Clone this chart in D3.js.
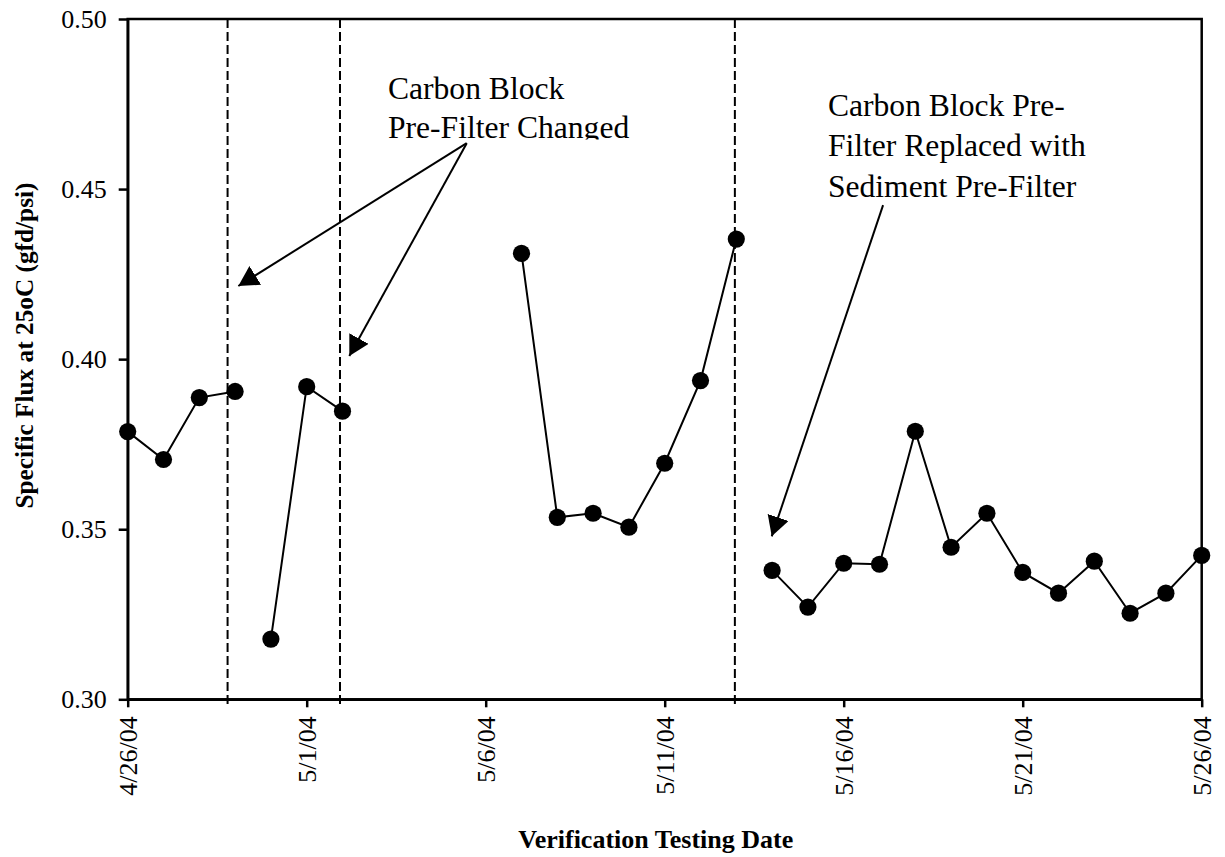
<!DOCTYPE html>
<html lang="en">
<head>
<meta charset="UTF-8">
<title>Specific Flux at 25oC</title>
<script src="https://d3js.org/d3.v7.min.js"></script>
<style>
  body { margin: 0; padding: 0; background: #fff; }
  text { font-family: "Liberation Serif", "Times New Roman", serif; fill: #000; }
</style>
</head>
<body>
<svg id="chart" width="1225" height="857"></svg>
<script>
// Data: one array per run of connected points
const runDates = [
  ["2004-04-26", "2004-04-27", "2004-04-28", "2004-04-29"],
  ["2004-04-30", "2004-05-01", "2004-05-02"],
  ["2004-05-07", "2004-05-08", "2004-05-09", "2004-05-10", "2004-05-11", "2004-05-12", "2004-05-13"],
  ["2004-05-14", "2004-05-15", "2004-05-16", "2004-05-17", "2004-05-18", "2004-05-19", "2004-05-20",
   "2004-05-21", "2004-05-22", "2004-05-23", "2004-05-24", "2004-05-25", "2004-05-26"]
];
const runValues = [
  [0.3787, 0.3705, 0.3887, 0.3905],
  [0.3177, 0.3919, 0.3847],
  [0.4311, 0.3535, 0.3547, 0.3506, 0.3694, 0.3937, 0.4353],
  [0.3379, 0.3271, 0.3400, 0.3397, 0.3788, 0.3447, 0.3547, 0.3373, 0.3312, 0.3406, 0.3253, 0.3312, 0.3423]
];

const xTicks = ["2004-04-26", "2004-05-01", "2004-05-06", "2004-05-11", "2004-05-16", "2004-05-21", "2004-05-26"];
const yTicks = [0.30, 0.35, 0.40, 0.45, 0.50];

// filter change events (days after 4/26/04)
const changeDays = [2.79, 5.93, 16.96];

// annotations, in (days after 4/26/04, flux)
const noteLeftLines = ["Carbon Block", "Pre-Filter Changed"];
const noteLeftAt = [7.27, 0.4765];
const noteLeftFrom = [9.47, 0.4635];
const noteLeftTips = [[3.09, 0.4215], [6.19, 0.4009]];
const noteRightLines = ["Carbon Block Pre-", "Filter Replaced with", "Sediment Pre-Filter"];
const noteRightAt = [19.56, 0.4715];
const noteRightFrom = [21.1, 0.4453];
const noteRightTip = [17.99, 0.3479];

const parse = d3.utcParse("%Y-%m-%d");
const start = parse(xTicks[0]);
const dayMs = 864e5;
const atDay = d => new Date(start.getTime() + d * dayMs);

const plotLeft = 127.7, plotRight = 1201.7, plotTop = 19, plotBottom = 699.3;

const svg = d3.select("#chart");
svg.append("rect").attr("width", 1225).attr("height", 857).attr("fill", "#fff");

const x = d3.scaleUtc()
  .domain([start, parse(xTicks[xTicks.length - 1])])
  .range([plotLeft, plotRight]);
const y = d3.scaleLinear().domain([0.30, 0.50]).range([plotBottom, plotTop]);

// arrow head
svg.append("defs").append("marker")
  .attr("id", "head")
  .attr("markerUnits", "userSpaceOnUse")
  .attr("viewBox", "0 -11 20 22")
  .attr("refX", 20).attr("refY", 0)
  .attr("markerWidth", 20).attr("markerHeight", 22)
  .attr("orient", "auto")
  .append("path").attr("d", "M0,-11L20,0L0,11Z").attr("fill", "#000");

// dashed change lines
svg.append("g").selectAll("line")
  .data(changeDays)
  .enter().append("line")
  .attr("x1", d => x(atDay(d))).attr("x2", d => x(atDay(d)))
  .attr("y1", y(0.50)).attr("y2", y(0.298))
  .attr("stroke", "#000").attr("stroke-width", 2)
  .attr("stroke-dasharray", "9,4");

// axes
const yAxis = d3.axisLeft(y).tickValues(yTicks).tickFormat(d3.format(".2f")).tickSize(9).tickSizeOuter(0).tickPadding(12);
const gy = svg.append("g").attr("transform", `translate(${plotLeft},0)`).call(yAxis);
gy.selectAll("text").attr("font-size", 26).style("font-family", '"Liberation Serif", serif');

const xAxis = d3.axisBottom(x).tickValues(xTicks.map(parse)).tickFormat(d3.utcFormat("%-m/%-d/%y")).tickSize(8).tickSizeOuter(0);
const gx = svg.append("g").attr("transform", `translate(0,${plotBottom})`).call(xAxis);
gx.selectAll("text")
  .attr("font-size", 26).style("font-family", '"Liberation Serif", serif')
  .attr("transform", "rotate(-90)")
  .attr("text-anchor", "end")
  .attr("x", -17).attr("y", 0).attr("dy", "0.35em");

svg.selectAll(".domain, .tick line").attr("stroke", "#000").attr("stroke-width", 2.5);

// plot frame
svg.append("rect")
  .attr("x", plotLeft).attr("y", plotTop)
  .attr("width", plotRight - plotLeft).attr("height", plotBottom - plotTop)
  .attr("fill", "none").attr("stroke", "#000").attr("stroke-width", 2.5);

// series
const runs = runDates.map((ds, i) => ds.map((d, j) => ({ date: parse(d), value: runValues[i][j] })));
const line = d3.line().x(d => x(d.date)).y(d => y(d.value));

svg.append("g").selectAll("path")
  .data(runs)
  .enter().append("path")
  .attr("d", line)
  .attr("fill", "none").attr("stroke", "#000").attr("stroke-width", 2);

svg.append("g").selectAll("circle")
  .data(runs.flat())
  .enter().append("circle")
  .attr("cx", d => x(d.date)).attr("cy", d => y(d.value))
  .attr("r", 8.6).attr("fill", "#000");

// annotations
const px = p => [x(atDay(p[0])), y(p[1])];

const [lx, ly] = px(noteLeftAt);
svg.append("clipPath").attr("id", "clipLeft")
  .append("rect").attr("x", lx - 5).attr("y", ly - 40).attr("width", 400).attr("height", 39.5 + 41);
const tl = svg.append("text").attr("font-size", 31.6).attr("clip-path", "url(#clipLeft)");
noteLeftLines.forEach((t, i) => tl.append("tspan").attr("x", lx).attr("y", ly + i * 39.5).text(t));

const [rx, ry] = px(noteRightAt);
const tr = svg.append("text").attr("font-size", 31.6);
noteRightLines.forEach((t, i) => tr.append("tspan").attr("x", rx).attr("y", ry + i * 40.3).text(t));

const arrows = noteLeftTips.map(t => [noteLeftFrom, t]).concat([[noteRightFrom, noteRightTip]]);
svg.append("g").selectAll("line")
  .data(arrows)
  .enter().append("line")
  .attr("x1", d => px(d[0])[0]).attr("y1", d => px(d[0])[1])
  .attr("x2", d => px(d[1])[0]).attr("y2", d => px(d[1])[1])
  .attr("stroke", "#000").attr("stroke-width", 2)
  .attr("marker-end", "url(#head)");

// axis titles
svg.append("text")
  .attr("transform", `translate(${x(atDay(14.75))},848)`)
  .attr("text-anchor", "middle").attr("font-size", 26).attr("font-weight", "bold")
  .text("Verification Testing Date");

svg.append("text")
  .attr("transform", `translate(33,${y(0.404)}) rotate(-90)`)
  .attr("text-anchor", "middle").attr("font-size", 25.3).attr("font-weight", "bold")
  .text("Specific Flux at 25oC (gfd/psi)");
</script>
</body>
</html>
